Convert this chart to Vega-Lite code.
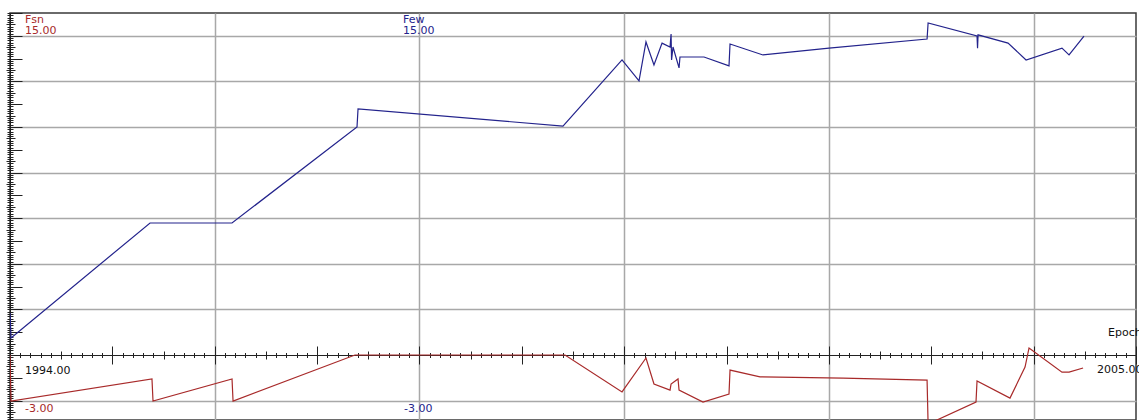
{
  "$schema": "https://vega.github.io/schema/vega-lite/v6.json",
  "width": 1126,
  "height": 407,
  "padding": {"left": 10, "top": 13, "right": 3, "bottom": 0},
  "autosize": {"type": "none"},
  "background": "white",
  "config": {"view": {"stroke": "#3a3a3a", "strokeWidth": 1.5}, "font": "DejaVu Sans"},
  "datasets": {
    "lines": [
      {"series": "Few", "year": 1994.000, "value": 1.84},
      {"series": "Few", "year": 1994.010, "value": 0.75},
      {"series": "Few", "year": 1995.368, "value": 5.79},
      {"series": "Few", "year": 1996.169, "value": 5.79},
      {"series": "Few", "year": 1997.390, "value": 10.0},
      {"series": "Few", "year": 1997.400, "value": 10.79},
      {"series": "Few", "year": 1999.402, "value": 10.04},
      {"series": "Few", "year": 1999.979, "value": 12.94},
      {"series": "Few", "year": 2000.145, "value": 12.02},
      {"series": "Few", "year": 2000.213, "value": 13.73},
      {"series": "Few", "year": 2000.291, "value": 12.72},
      {"series": "Few", "year": 2000.370, "value": 13.68},
      {"series": "Few", "year": 2000.448, "value": 13.51},
      {"series": "Few", "year": 2000.458, "value": 14.08},
      {"series": "Few", "year": 2000.463, "value": 12.94},
      {"series": "Few", "year": 2000.477, "value": 13.51},
      {"series": "Few", "year": 2000.536, "value": 12.59},
      {"series": "Few", "year": 2000.545, "value": 13.07},
      {"series": "Few", "year": 2000.780, "value": 13.07},
      {"series": "Few", "year": 2001.024, "value": 12.68},
      {"series": "Few", "year": 2001.034, "value": 13.64},
      {"series": "Few", "year": 2001.356, "value": 13.16},
      {"series": "Few", "year": 2002.001, "value": 13.46},
      {"series": "Few", "year": 2002.959, "value": 13.86},
      {"series": "Few", "year": 2002.969, "value": 14.56},
      {"series": "Few", "year": 2003.447, "value": 13.99},
      {"series": "Few", "year": 2003.452, "value": 13.46},
      {"series": "Few", "year": 2003.457, "value": 14.04},
      {"series": "Few", "year": 2003.750, "value": 13.68},
      {"series": "Few", "year": 2003.926, "value": 12.94},
      {"series": "Few", "year": 2004.277, "value": 13.46},
      {"series": "Few", "year": 2004.346, "value": 13.16},
      {"series": "Few", "year": 2004.492, "value": 13.99},
      {"series": "Fsn", "year": 1994.000, "value": 0.0},
      {"series": "Fsn", "year": 1994.010, "value": -2.02},
      {"series": "Fsn", "year": 1995.387, "value": -1.05},
      {"series": "Fsn", "year": 1995.397, "value": -2.02},
      {"series": "Fsn", "year": 1996.169, "value": -1.05},
      {"series": "Fsn", "year": 1996.179, "value": -2.02},
      {"series": "Fsn", "year": 1997.370, "value": 0.0},
      {"series": "Fsn", "year": 1999.422, "value": 0.0},
      {"series": "Fsn", "year": 1999.979, "value": -1.62},
      {"series": "Fsn", "year": 2000.213, "value": -0.13},
      {"series": "Fsn", "year": 2000.291, "value": -1.27},
      {"series": "Fsn", "year": 2000.448, "value": -1.54},
      {"series": "Fsn", "year": 2000.458, "value": -1.27},
      {"series": "Fsn", "year": 2000.526, "value": -1.05},
      {"series": "Fsn", "year": 2000.536, "value": -1.54},
      {"series": "Fsn", "year": 2000.770, "value": -2.06},
      {"series": "Fsn", "year": 2001.024, "value": -1.71},
      {"series": "Fsn", "year": 2001.034, "value": -0.66},
      {"series": "Fsn", "year": 2001.327, "value": -0.96},
      {"series": "Fsn", "year": 2002.138, "value": -1.01},
      {"series": "Fsn", "year": 2002.959, "value": -1.10},
      {"series": "Fsn", "year": 2002.969, "value": -3.03},
      {"series": "Fsn", "year": 2003.437, "value": -2.06},
      {"series": "Fsn", "year": 2003.447, "value": -1.14},
      {"series": "Fsn", "year": 2003.769, "value": -1.89},
      {"series": "Fsn", "year": 2003.916, "value": -0.53},
      {"series": "Fsn", "year": 2003.955, "value": 0.31},
      {"series": "Fsn", "year": 2004.277, "value": -0.75},
      {"series": "Fsn", "year": 2004.346, "value": -0.75},
      {"series": "Fsn", "year": 2004.483, "value": -0.57}
    ],
    "labels": [
      {"series": "Fsn", "year": 1994.147, "value": 14.69, "text": "Fsn"},
      {"series": "Fsn", "year": 1994.147, "value": 14.22, "text": "15.00"},
      {"series": "Few", "year": 1997.839, "value": 14.69, "text": "Few"},
      {"series": "Few", "year": 1997.839, "value": 14.22, "text": "15.00"},
      {"series": "Fsn", "year": 1994.147, "value": -2.37, "text": "-3.00"},
      {"series": "Few", "year": 1997.849, "value": -2.37, "text": "-3.00"},
      {"series": "axis", "year": 1994.147, "value": -0.70, "text": "1994.00"},
      {"series": "axis", "year": 2004.619, "value": -0.66, "text": "2005.00"},
      {"series": "axis", "year": 2004.727, "value": 0.96, "text": "Epoch"}
    ]
  },
  "layer": [
    {
      "data": {"name": "lines"},
      "transform": [{"filter": "datum.series === 'Few'"}],
      "mark": {"type": "line", "clip": true, "strokeWidth": 1.2},
      "encoding": {
        "x": {"field": "year", "type": "quantitative", "scale": {"domain": [1994, 2005], "nice": false, "zero": false},
          "axis": {"orient": "bottom", "offset": 0, "grid": true, "values": [1996, 1998, 2000, 2002, 2004], "gridColor": "#a8a8a8", "gridWidth": 1.5, "gridOpacity": 1, "ticks": false, "labels": false, "domain": false, "title": null}},
        "y": {"field": "value", "type": "quantitative", "scale": {"domain": [-2.85, 15], "nice": false, "zero": false},
          "axis": {"orient": "left", "offset": 0, "grid": true, "values": [-2, 2, 4, 6, 8, 10, 12, 14], "gridColor": "#a8a8a8", "gridWidth": 1.5, "gridOpacity": 1, "ticks": false, "labels": false, "domain": false, "title": null}},
        "color": {"field": "series", "type": "nominal", "scale": {"domain": ["Few", "Fsn", "axis"], "range": ["#23238c", "#a82a2a", "#111111"]}, "legend": null}
      }
    },
    {
      "data": {"name": "lines"},
      "transform": [{"filter": "datum.series === 'Fsn'"}],
      "mark": {"type": "line", "clip": true, "strokeWidth": 1.2},
      "encoding": {
        "x": {"field": "year", "type": "quantitative",
          "axis": {"orient": "bottom", "offset": -65, "grid": false, "tickCount": 110, "tickColor": "#222222", "tickWidth": 1,
            "tickSize": {"condition": [{"test": "abs(datum.value - round(datum.value)) < 0.001", "value": 9}, {"test": "abs(datum.value*2 - round(datum.value*2)) < 0.001", "value": 4}], "value": 2.5},
            "labels": false, "domain": true, "domainColor": "#222222", "domainWidth": 1, "title": null}},
        "y": {"field": "value", "type": "quantitative",
          "axis": {"orient": "left", "offset": 0, "grid": false, "tickCount": 180, "tickColor": "#222222", "tickWidth": 1,
            "tickSize": {"condition": [{"test": "abs(datum.value - round(datum.value)) < 0.001", "value": 3}, {"test": "abs(datum.value*2 - round(datum.value*2)) < 0.001", "value": 4}], "value": 3},
            "labels": false, "domain": true, "domainColor": "#222222", "domainWidth": 1, "title": null}},
        "color": {"field": "series", "type": "nominal", "legend": null}
      }
    },
    {
      "data": {"name": "labels"},
      "mark": {"type": "text", "align": "left", "baseline": "middle", "fontSize": 11, "font": "DejaVu Sans"},
      "encoding": {
        "x": {"field": "year", "type": "quantitative",
          "axis": {"orient": "top", "offset": -342, "grid": false, "tickCount": 110, "tickColor": "#222222", "tickWidth": 1,
            "tickSize": {"condition": [{"test": "abs(datum.value - round(datum.value)) < 0.001", "value": 9}, {"test": "abs(datum.value*2 - round(datum.value*2)) < 0.001", "value": 4}], "value": 2.5},
            "labels": false, "domain": false, "title": null}},
        "y": {"field": "value", "type": "quantitative",
          "axis": {"orient": "right", "offset": -1126, "grid": false, "tickCount": 180, "tickColor": "#222222", "tickWidth": 1,
            "tickSize": {"condition": [{"test": "abs(datum.value - round(datum.value)) < 0.001", "value": 12}, {"test": "abs(datum.value*2 - round(datum.value*2)) < 0.001", "value": 5}], "value": 3},
            "labels": false, "domain": false, "title": null}},
        "text": {"field": "text", "type": "nominal"},
        "color": {"field": "series", "type": "nominal", "legend": null}
      }
    }
  ],
  "resolve": {"axis": {"x": "independent", "y": "independent"}}
}
